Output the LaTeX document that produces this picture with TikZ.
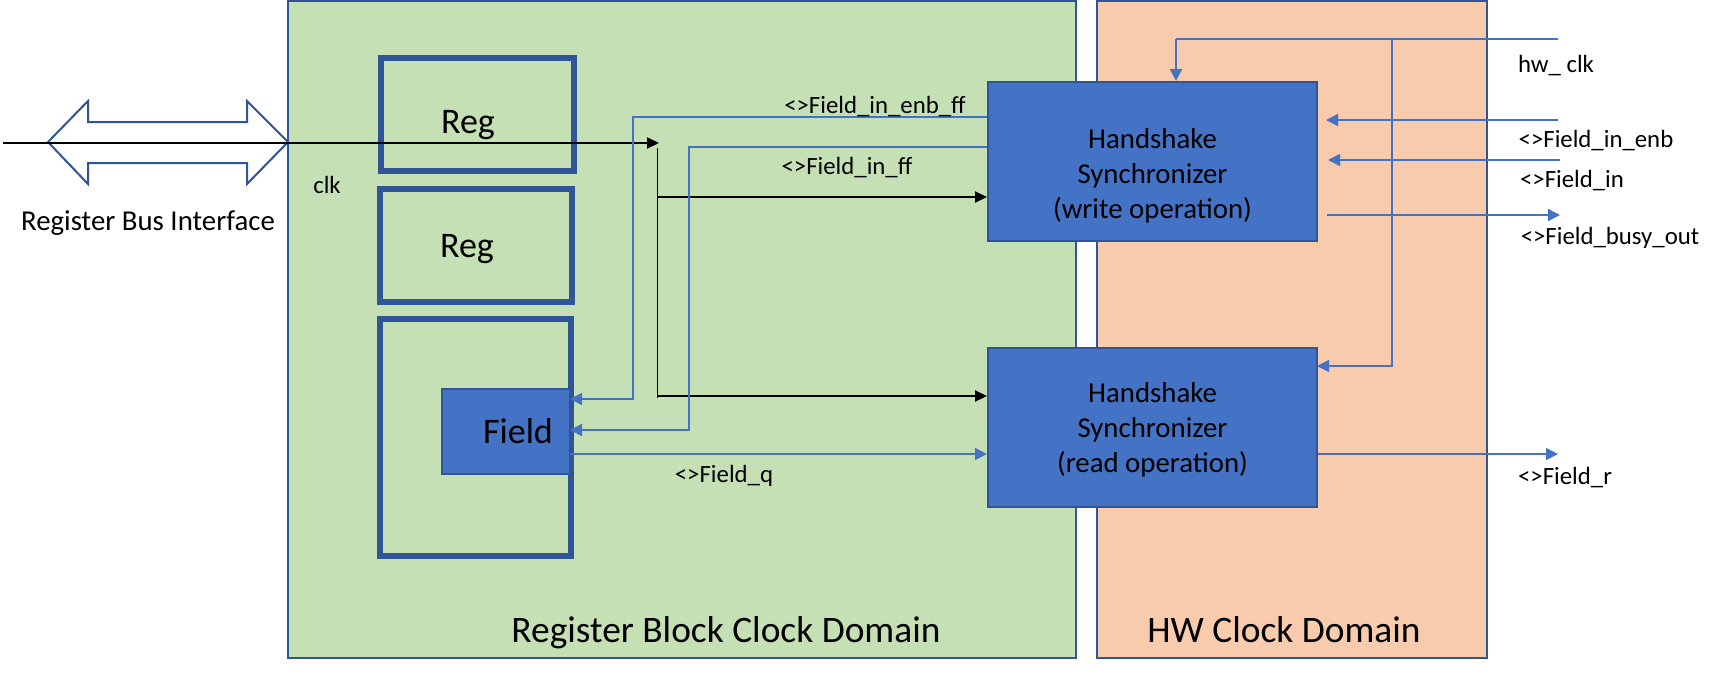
\documentclass[tikz,border=0pt]{standalone}
\usepackage{fontspec}
\setmainfont{Carlito}
\usetikzlibrary{arrows.meta}
\definecolor{RegGreen}{RGB}{197,224,180}
\definecolor{HwOrange}{RGB}{248,203,173}
\definecolor{EdgeBlue}{RGB}{47,85,151}
\definecolor{SyncBlue}{RGB}{68,114,196}

\begin{document}
\begin{tikzpicture}[
    x=0.5pt, y=-0.5pt,
    clkdomain/.style={draw=EdgeBlue, line width=1pt, inner sep=0pt},
    regbox/.style={draw=EdgeBlue, line width=3pt, inner sep=0pt},
    syncbox/.style={
        draw=EdgeBlue,
        line width=1pt,
        fill=SyncBlue,
        minimum width=164.5pt,
        minimum height=79.5pt
    },
    synctxt/.style={align=center, inner sep=0pt, font=\fontsize{14.4}{17.5}\selectfont},
    sig/.style={draw=SyncBlue, line width=0.8pt},
    sigarrow/.style={sig, -{Triangle[length=6pt,width=6pt]}},
    clkarrow/.style={line width=1pt, -{Triangle[length=6pt,width=5.5pt]}},
    lbl/.style={anchor=base, inner sep=0pt, font=\fontsize{12.4}{14}\selectfont},
    bigtxt/.style={anchor=base, inner sep=0pt, font=\fontsize{18}{20}\selectfont}
]
\useasboundingbox (0,0) rectangle (1725,676);

% clock domains
\node[clkdomain, fill=RegGreen, minimum width=394pt, minimum height=328.5pt] (regdom) at (682,329.5) {};
\node[clkdomain, fill=HwOrange, minimum width=195pt, minimum height=328.5pt] (hwdom) at (1292,329.5) {};
\node[anchor=base, inner sep=0pt, font=\fontsize{18.7}{20}\selectfont] (regdomtxt) at (726,642) {Register Block Clock Domain};
\node[anchor=base, inner sep=0pt, font=\fontsize{18.7}{20}\selectfont] (hwdomtxt) at (1284,642) {HW Clock Domain};

% bus interface
\draw[EdgeBlue, line width=1pt, fill=white] (48,142) -- (88,101) -- (88,122) -- (247,122) -- (247,101)
    -- (288,142) -- (247,184) -- (247,163) -- (88,163) -- (88,184) -- cycle;
\node[anchor=base, inner sep=0pt, font=\fontsize{14.4}{16}\selectfont] (bustxt) at (148,230) {Register Bus Interface};

% registers
\node[regbox, minimum width=96.5pt, minimum height=56.5pt] (reg1) at (477.5,114.5) {};
\node[regbox, minimum width=96pt, minimum height=56.5pt] (reg2) at (476,245.5) {};
\node[regbox, minimum width=95.5pt, minimum height=118.5pt] (reg3) at (475.5,437.5) {};
\node[draw=EdgeBlue, line width=1pt, fill=SyncBlue, inner sep=0pt, minimum width=64pt, minimum height=42.5pt] (field) at (506,431.5) {};
\node[bigtxt] (reg1txt) at (468,133) {Reg};
\node[bigtxt] (reg2txt) at (467,257) {Reg};
\node[bigtxt] (fieldtxt) at (518,443) {Field};

% synchronizers
\node[syncbox] (write) at (1152.5,161.5) {};
\node[syncbox] (read) at (1152.5,427) {};
\node[synctxt] (writetxt) at ([yshift=-7pt]write.center) {Handshake\\Synchronizer\\(write operation)};
\node[synctxt] (readtxt) at ([yshift=-1.5pt]read.center) {Handshake\\Synchronizer\\(read operation)};

% clock
\coordinate (busin) at (3,143);
\coordinate (clkend) at (659,143);
\coordinate (clktop) at (657,148);
\coordinate (wclk) at (657,197);
\coordinate (clkbot) at (657,396);
\draw[clkarrow] (busin) -- (clkend);
\draw[line width=0.5pt] (clktop) -- ([yshift=-1pt]clkbot);
\draw[clkarrow] (wclk) -- (write.west |- wclk);
\draw[clkarrow] (clkbot) -- (read.west |- clkbot);
\node[lbl] (clktxt) at (327,193) {clk};

% register side signals
\coordinate (enbff) at (633,117);
\coordinate (inff) at (689,147);
\coordinate (fenb) at (570,399);
\coordinate (fin) at (570,430);
\coordinate (fq) at (570,454);
\draw[sigarrow] (write.west |- enbff) -- (enbff) |- (fenb);
\draw[sigarrow] (write.west |- inff) -- (inff) |- (fin);
\draw[sigarrow] (fq) -- (read.west |- fq);
\node[lbl] (enbfftxt) at (875,113) {<>Field\_in\_enb\_ff};
\node[lbl] (infftxt) at (847,174) {<>Field\_in\_ff};
\node[lbl] (fqtxt) at (724,482) {<>Field\_q};

% hw side signals
\coordinate (hwclk) at (1558,39);
\coordinate (hwtap) at (1176,39);
\coordinate (hwtap2) at (1392,39);
\coordinate (rdclk) at (1317,366);
\draw[sig] (hwclk) -- (hwtap);
\draw[sigarrow] (hwtap) -- (hwtap |- write.north);
\draw[sigarrow] (hwtap2) |- (rdclk);
\coordinate (enbin) at (1558,120);
\coordinate (datin) at (1560,160);
\coordinate (busy) at (1560,215);
\coordinate (fr) at (1558,454);
\draw[sigarrow] (enbin) -- ([xshift=4pt]write.east |- enbin);
\draw[sigarrow] (datin) -- ([xshift=5pt]write.east |- datin);
\draw[sigarrow] ([xshift=4.5pt]write.east |- busy) -- (busy);
\draw[sigarrow] (read.east |- fr) -- (fr);
\node[lbl] (hwclktxt) at (1556,72) {hw\_ clk};
\node[lbl] (enbintxt) at (1596,147) {<>Field\_in\_enb};
\node[lbl] (datintxt) at (1572,187) {<>Field\_in};
\node[lbl] (busytxt) at (1610,244) {<>Field\_busy\_out};
\node[lbl] (frtxt) at (1565,484) {<>Field\_r};

\end{tikzpicture}
\end{document}
